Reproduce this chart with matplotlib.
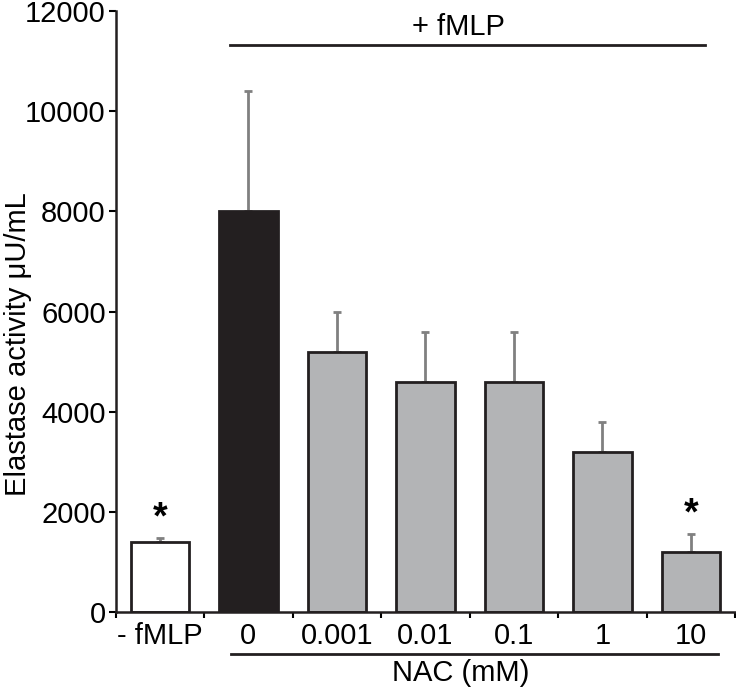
import matplotlib
matplotlib.use("Agg")
import matplotlib.pyplot as plt
import numpy as np

plt.rcParams['font.family'] = ['Liberation Sans', 'DejaVu Sans']

categories = ["- fMLP", "0", "0.001", "0.01", "0.1", "1", "10"]
values = [1400, 8000, 5200, 4600, 4600, 3200, 1200]
errors = [80, 2400, 800, 1000, 1000, 600, 360]
colors = ["#ffffff", "#231f20", "#b3b4b6", "#b3b4b6", "#b3b4b6", "#b3b4b6", "#b3b4b6"]
significant = [True, False, False, False, False, False, True]

FS = 21

fig = plt.figure(figsize=(7.36, 6.9), dpi=100)
ax = fig.add_axes([0.157, 0.113, 0.842, 0.871])

x = np.arange(len(categories))
ax.bar(x, values, width=0.66, color=colors, edgecolor="#231f20", linewidth=2, zorder=2)
ax.errorbar(x, values, yerr=[np.zeros(len(values)), errors], fmt="none",
            ecolor="#808080", elinewidth=2, capsize=3, capthick=2, zorder=1)

for xi, v, e, s in zip(x, values, errors, significant):
    if s:
        ax.annotate("*", (xi, v + e), xytext=(0, 1), textcoords="offset points",
                    ha="center", va="bottom", fontsize=27, fontweight="bold")

ax.set_xlim(-0.5, len(categories) - 0.5)
ax.set_ylim(0, 12000)
ax.set_yticks(np.arange(0, 12001, 2000))
ax.tick_params(axis="y", labelsize=FS, width=1.5, length=5, direction="out", pad=2)
ax.set_xticks(x)
ax.set_xticklabels(categories)
ax.tick_params(axis="x", which="major", length=0, labelsize=FS, pad=7)
ax.set_xticks(np.arange(-0.5, len(categories), 1), minor=True)
ax.tick_params(axis="x", which="minor", length=4, width=1.5, direction="out")

fig.text(18 / 736, 1 - 344 / 690, "Elastase activity μU/mL", rotation=90,
         ha="center", va="center", fontsize=FS)

for side in ["top", "right"]:
    ax.spines[side].set_visible(False)
for side in ["left", "bottom"]:
    ax.spines[side].set_linewidth(1.8)
    ax.spines[side].set_color("#231f20")

# group annotations
ax.plot([0.79, 6.16], [11320, 11320], color="#231f20", lw=2, clip_on=False)
ax.text(3.37, 11520, "+ fMLP", ha="center", va="baseline", fontsize=FS)
ax.plot([0.80, 6.30], [-840, -840], color="#231f20", lw=2, clip_on=False)
ax.text(3.4, -1380, "NAC (mM)", ha="center", va="baseline", fontsize=FS)

fig.savefig("out.png", dpi=100)
